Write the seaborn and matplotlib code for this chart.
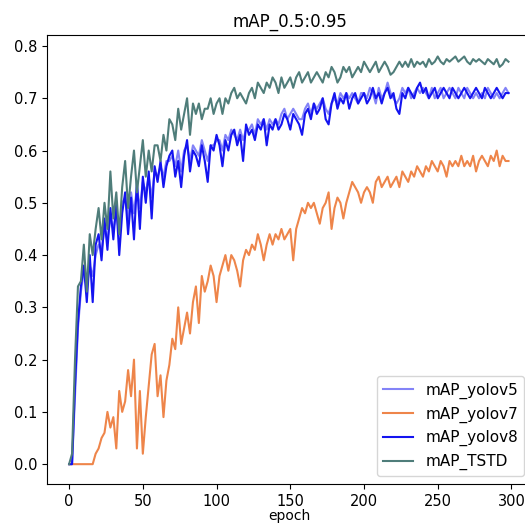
import pandas as pd
import numpy as np
import matplotlib
matplotlib.use('Agg')
import matplotlib.pyplot as plt
import seaborn as sns

# epochs sampled every 2 steps
epochs = list(range(0, 300, 2))

map_yolov5 = [
    0.00, 0.00, 0.13, 0.26, 0.33, 0.37, 0.34, 0.38, 0.36, 0.40,
    0.42, 0.41, 0.45, 0.43, 0.47, 0.45, 0.48, 0.44, 0.50, 0.51,
    0.47, 0.52, 0.48, 0.53, 0.49, 0.54, 0.52, 0.55, 0.51, 0.56,
    0.55, 0.57, 0.55, 0.58, 0.58, 0.59, 0.57, 0.60, 0.56, 0.60,
    0.61, 0.58, 0.61, 0.60, 0.59, 0.62, 0.60, 0.58, 0.61, 0.61,
    0.62, 0.62, 0.60, 0.63, 0.62, 0.64, 0.63, 0.62, 0.64, 0.62,
    0.64, 0.64, 0.65, 0.63, 0.66, 0.65, 0.66, 0.64, 0.66, 0.65,
    0.66, 0.65, 0.67, 0.68, 0.66, 0.67, 0.68, 0.67, 0.66, 0.66,
    0.68, 0.69, 0.67, 0.69, 0.68, 0.69, 0.70, 0.68, 0.67, 0.69,
    0.70, 0.69, 0.71, 0.70, 0.71, 0.70, 0.71, 0.70, 0.69, 0.71,
    0.71, 0.70, 0.72, 0.71, 0.69, 0.72, 0.70, 0.71, 0.73, 0.71,
    0.70, 0.69, 0.70, 0.72, 0.71, 0.72, 0.70, 0.71, 0.72, 0.71,
    0.72, 0.71, 0.70, 0.72, 0.70, 0.71, 0.72, 0.70, 0.71, 0.72,
    0.71, 0.70, 0.72, 0.71, 0.70, 0.72, 0.71, 0.70, 0.71, 0.70,
    0.71, 0.70, 0.72, 0.71, 0.70, 0.71, 0.70, 0.71, 0.72, 0.71,
]

map_yolov7 = [
    0.00, 0.00, 0.00, 0.00, 0.00, 0.00, 0.00, 0.00, 0.00, 0.02,
    0.03, 0.05, 0.06, 0.10, 0.07, 0.09, 0.03, 0.14, 0.10, 0.12,
    0.18, 0.13, 0.20, 0.03, 0.14, 0.02, 0.09, 0.15, 0.21, 0.23,
    0.13, 0.17, 0.09, 0.16, 0.19, 0.24, 0.22, 0.30, 0.23, 0.26,
    0.29, 0.25, 0.31, 0.34, 0.27, 0.36, 0.33, 0.35, 0.38, 0.36,
    0.31, 0.36, 0.38, 0.40, 0.37, 0.40, 0.39, 0.37, 0.34, 0.39,
    0.41, 0.40, 0.42, 0.41, 0.44, 0.42, 0.39, 0.42, 0.44, 0.42,
    0.44, 0.43, 0.45, 0.43, 0.44, 0.45, 0.39, 0.45, 0.47, 0.49,
    0.48, 0.50, 0.49, 0.50, 0.48, 0.46, 0.49, 0.50, 0.52, 0.45,
    0.49, 0.51, 0.50, 0.47, 0.50, 0.52, 0.54, 0.53, 0.52, 0.50,
    0.52, 0.53, 0.52, 0.50, 0.54, 0.55, 0.53, 0.54, 0.55, 0.53,
    0.54, 0.55, 0.53, 0.56, 0.55, 0.54, 0.56, 0.55, 0.57, 0.56,
    0.55, 0.57, 0.56, 0.58, 0.57, 0.56, 0.58, 0.57, 0.55, 0.58,
    0.57, 0.58, 0.57, 0.59, 0.57, 0.58, 0.57, 0.59, 0.56, 0.58,
    0.59, 0.58, 0.57, 0.59, 0.58, 0.60, 0.57, 0.59, 0.58, 0.58,
]

map_yolov8 = [
    0.00, 0.00, 0.15, 0.27, 0.34, 0.38, 0.31, 0.40, 0.31, 0.42,
    0.44, 0.39, 0.47, 0.41, 0.49, 0.43, 0.50, 0.40, 0.48, 0.52,
    0.44, 0.51, 0.43, 0.54, 0.45, 0.55, 0.50, 0.56, 0.47, 0.57,
    0.54, 0.58, 0.53, 0.57, 0.59, 0.60, 0.55, 0.58, 0.53, 0.59,
    0.62, 0.56, 0.60, 0.59, 0.57, 0.61, 0.58, 0.54, 0.61, 0.60,
    0.63, 0.61, 0.57, 0.62, 0.60, 0.63, 0.64, 0.61, 0.63, 0.58,
    0.65, 0.63, 0.64, 0.62, 0.65, 0.64, 0.66, 0.61, 0.65, 0.64,
    0.66, 0.64, 0.65, 0.67, 0.66, 0.64, 0.67, 0.66, 0.65, 0.63,
    0.67, 0.68, 0.66, 0.69, 0.67, 0.68, 0.70, 0.66, 0.65, 0.69,
    0.71, 0.68, 0.70, 0.69, 0.71, 0.68, 0.70, 0.71, 0.69, 0.70,
    0.71, 0.69, 0.70, 0.72, 0.70, 0.71, 0.69, 0.71, 0.72, 0.70,
    0.71, 0.68, 0.67, 0.71, 0.70, 0.72, 0.71, 0.70, 0.72, 0.73,
    0.71, 0.72, 0.70, 0.71, 0.72, 0.70, 0.71, 0.72, 0.71, 0.70,
    0.72, 0.71, 0.70, 0.71, 0.72, 0.71, 0.70, 0.71, 0.72, 0.71,
    0.70, 0.72, 0.71, 0.70, 0.71, 0.72, 0.71, 0.70, 0.71, 0.71,
]

map_tstd = [
    0.00, 0.02, 0.20, 0.34, 0.35, 0.42, 0.33, 0.44, 0.40, 0.45,
    0.49, 0.43, 0.50, 0.45, 0.56, 0.47, 0.52, 0.44, 0.53, 0.58,
    0.49, 0.55, 0.60, 0.52, 0.57, 0.62, 0.55, 0.60, 0.56, 0.61,
    0.61, 0.58, 0.63, 0.60, 0.66, 0.65, 0.62, 0.68, 0.64, 0.67,
    0.70, 0.63, 0.69, 0.67, 0.69, 0.66, 0.68, 0.68, 0.70, 0.67,
    0.69, 0.70, 0.67, 0.70, 0.69, 0.71, 0.72, 0.70, 0.71, 0.70,
    0.69, 0.71, 0.72, 0.70, 0.73, 0.72, 0.71, 0.73, 0.72, 0.74,
    0.73, 0.71, 0.74, 0.72, 0.73, 0.74, 0.72, 0.74, 0.75, 0.73,
    0.74, 0.75, 0.73, 0.74, 0.75, 0.74, 0.73, 0.75, 0.74, 0.76,
    0.75, 0.73, 0.74, 0.76, 0.75, 0.76, 0.74, 0.75, 0.76, 0.75,
    0.77, 0.76, 0.75, 0.76, 0.77, 0.75, 0.76, 0.77, 0.76, 0.745,
    0.75, 0.76, 0.77, 0.76, 0.77, 0.76, 0.775, 0.76, 0.77, 0.765,
    0.77, 0.76, 0.775, 0.765, 0.77, 0.78, 0.77, 0.765, 0.775, 0.77,
    0.775, 0.78, 0.77, 0.775, 0.78, 0.77, 0.765, 0.775, 0.77, 0.775,
    0.77, 0.765, 0.775, 0.77, 0.765, 0.775, 0.76, 0.765, 0.775, 0.77,
]

series_names = ['mAP_yolov5', 'mAP_yolov7', 'mAP_yolov8', 'mAP_TSTD']
series_colors = ['#8383f7', '#ee854a', '#1414f0', '#4f7d7a']

# long format for seaborn
frames = []
for name, vals in zip(series_names, [map_yolov5, map_yolov7, map_yolov8, map_tstd]):
    frames.append(pd.DataFrame({'epoch': epochs, 'value': vals, 'model': name}))
df = pd.concat(frames, ignore_index=True)

fig = plt.figure(figsize=(5.25, 5.26), dpi=100)
ax = fig.add_axes([0.0895, 0.0798, 0.924, 0.8536])

sns.lineplot(data=df, x='epoch', y='value', hue='model',
             palette=dict(zip(series_names, series_colors)),
             hue_order=series_names, linewidth=1.5, ax=ax)

ax.set_xlim(-15, 314)
ax.set_ylim(-0.038, 0.821)
ax.set_xticks([0, 50, 100, 150, 200, 250, 300])
ax.set_yticks([0.0, 0.1, 0.2, 0.3, 0.4, 0.5, 0.6, 0.7, 0.8])
ax.tick_params(labelsize=10.5)
ax.set_title('mAP_0.5:0.95', fontsize=12)
ax.set_xlabel('epoch', fontsize=10, labelpad=0)
ax.set_ylabel('')
handles, labels = ax.get_legend_handles_labels()
ax.legend(handles, labels, loc='lower right', fontsize=11)

fig.savefig('out.png', dpi=100)
